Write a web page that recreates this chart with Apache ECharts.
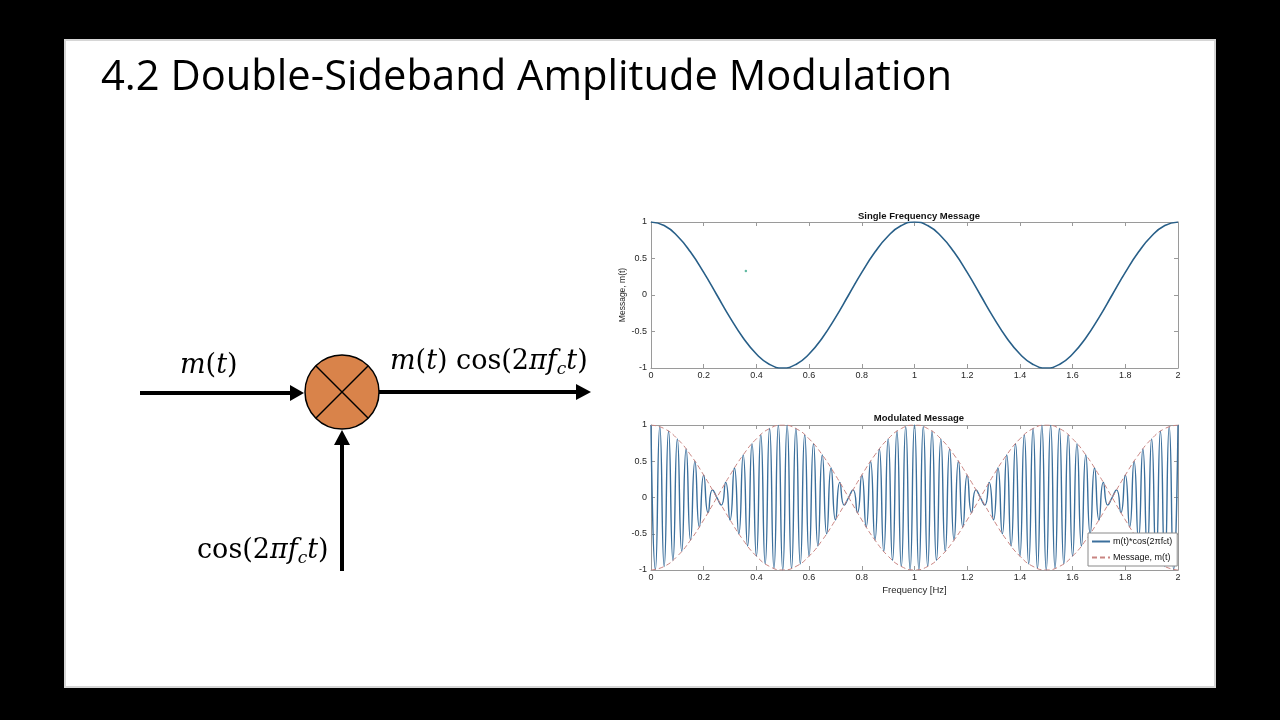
<!DOCTYPE html>
<html>
<head>
<meta charset="utf-8">
<script src="https://cdn.jsdelivr.net/npm/echarts@6/dist/echarts.min.js"></script>
<style>
html,body{margin:0;padding:0;background:#000;}
#chart{width:1280px;height:720px;}
</style>
</head>
<body>
<div id="chart"></div>
<script>
// ---- data ----
const slideTitle = '4.2 Double-Sideband Amplitude Modulation';
const topTitle = 'Single Frequency Message';
const bottomTitle = 'Modulated Message';
const yAxisName = 'Message, m(t)';
const xAxisName = 'Frequency [Hz]';
const xTicks = ['0','0.2','0.4','0.6','0.8','1','1.2','1.4','1.6','1.8','2'];
const yTicks = ['-1','-0.5','0','0.5','1'];

// message m(t), sampled every 0.05 from t = 0 to 2
const messageStep = 0.05;
const message = [1,0.951,0.809,0.588,0.309,0,-0.309,-0.588,-0.809,-0.951,-1,-0.951,-0.809,-0.588,-0.309,0,0.309,0.588,0.809,0.951,
  1,0.951,0.809,0.588,0.309,0,-0.309,-0.588,-0.809,-0.951,-1,-0.951,-0.809,-0.588,-0.309,0,0.309,0.588,0.809,0.951,1];
// lower envelope (-m(t)), same sampling
const messageNeg = [-1,-0.951,-0.809,-0.588,-0.309,0,0.309,0.588,0.809,0.951,1,0.951,0.809,0.588,0.309,0,-0.309,-0.588,-0.809,-0.951,
  -1,-0.951,-0.809,-0.588,-0.309,0,0.309,0.588,0.809,0.951,1,0.951,0.809,0.588,0.309,0,-0.309,-0.588,-0.809,-0.951,-1];

// modulated signal m(t)*cos(2*pi*fc*t): carrier peaks, sampled every 1/60 s
const modStep = 1/60;
const modulated = [
  1,-0.995,0.978,-0.951,0.914,-0.866,0.809,-0.743,0.669,-0.588,0.5,-0.407,0.309,-0.208,0.105,0,
  -0.105,0.208,-0.309,0.407,-0.5,0.588,-0.669,0.743,-0.809,0.866,-0.914,0.951,-0.978,0.995,-1,
  0.995,-0.978,0.951,-0.914,0.866,-0.809,0.743,-0.669,0.588,-0.5,0.407,-0.309,0.208,-0.105,0,
  0.105,-0.208,0.309,-0.407,0.5,-0.588,0.669,-0.743,0.809,-0.866,0.914,-0.951,0.978,-0.995,1,
  -0.995,0.978,-0.951,0.914,-0.866,0.809,-0.743,0.669,-0.588,0.5,-0.407,0.309,-0.208,0.105,0,
  -0.105,0.208,-0.309,0.407,-0.5,0.588,-0.669,0.743,-0.809,0.866,-0.914,0.951,-0.978,0.995,-1,
  0.995,-0.978,0.951,-0.914,0.866,-0.809,0.743,-0.669,0.588,-0.5,0.407,-0.309,0.208,-0.105,0,
  0.105,-0.208,0.309,-0.407,0.5,-0.588,0.669,-0.743,0.809,-0.866,0.914,-0.951,0.978,-0.995,1
];
// stray dot in the top plot
const strayDot = [[0.36, 0.33]];

// ---- build pairs ----
const pairs = (arr, step) => arr.map((v, i) => [i * step, v]);

const chart = echarts.init(document.getElementById('chart'));

const FONT = 'Liberation Sans';
const axisColor = '#9a9a9a';
const labelColor = '#262626';

function xAxisFor(grid, showLabels, name) {
  return [{
    type: 'value', gridIndex: grid, min: 0, max: 2, interval: 0.2, position: 'bottom',
    axisLine: {show: true, onZero: false, lineStyle: {color: axisColor, width: 1}},
    axisTick: {show: true, inside: true, length: 4, lineStyle: {color: axisColor}},
    splitLine: {show: false},
    axisLabel: {show: showLabels, fontFamily: FONT, fontSize: 9, color: labelColor, margin: 3,
      formatter: (v) => xTicks[Math.round(v / 0.2)]},
    name: name || '', nameLocation: 'middle', nameGap: 15,
    nameTextStyle: {fontFamily: FONT, fontSize: 9.5, color: labelColor}
  }, {
    type: 'value', gridIndex: grid, min: 0, max: 2, interval: 0.2, position: 'top',
    axisLine: {show: true, onZero: false, lineStyle: {color: axisColor, width: 1}},
    axisTick: {show: true, inside: true, length: 4, lineStyle: {color: axisColor}},
    splitLine: {show: false}, axisLabel: {show: false}
  }];
}
function yAxisFor(grid, name) {
  return [{
    type: 'value', gridIndex: grid, min: -1, max: 1, interval: 0.5, position: 'left',
    axisLine: {show: true, onZero: false, lineStyle: {color: axisColor, width: 1}},
    axisTick: {show: true, inside: true, length: 4, lineStyle: {color: axisColor}},
    splitLine: {show: false},
    axisLabel: {fontFamily: FONT, fontSize: 9, color: labelColor, margin: 4,
      formatter: (v) => yTicks[Math.round((v + 1) / 0.5)]},
    name: name || '', nameLocation: 'middle', nameGap: 12, nameRotate: 90,
    nameTextStyle: {fontFamily: FONT, fontSize: 8.5, color: labelColor}
  }, {
    type: 'value', gridIndex: grid, min: -1, max: 1, interval: 0.5, position: 'right',
    axisLine: {show: true, onZero: false, lineStyle: {color: axisColor, width: 1}},
    axisTick: {show: true, inside: true, length: 4, lineStyle: {color: axisColor}},
    splitLine: {show: false}, axisLabel: {show: false}
  }];
}

const mathFont = 'DejaVu Serif';
const MF = 27;
const mathRich = {
  i: {fontFamily: mathFont, fontStyle: 'italic', fontSize: MF, lineHeight: 34, color: '#000'},
  r: {fontFamily: mathFont, fontSize: MF, lineHeight: 34, color: '#000'},
  s: {fontFamily: mathFont, fontStyle: 'italic', fontSize: 17, lineHeight: 12, verticalAlign: 'bottom', color: '#000'}
};

const arrowW = 4;
const graphics = [
  {type: 'rect', z: -10, shape: {x: 65, y: 40, width: 1150, height: 647}, style: {fill: '#fff', stroke: '#d6d6d6', lineWidth: 2}},
  {type: 'text', z: 5, left: 101, top: 57, style: {text: slideTitle, font: '41.7px "Open Sans"', fill: '#000'}},
  // input line m(t)
  {type: 'line', shape: {x1: 140, y1: 393, x2: 292, y2: 393}, style: {stroke: '#000', lineWidth: arrowW}},
  {type: 'polygon', shape: {points: [[290, 385], [304, 393], [290, 401]]}, style: {fill: '#000'}},
  // output line
  {type: 'line', shape: {x1: 379, y1: 392, x2: 578, y2: 392}, style: {stroke: '#000', lineWidth: arrowW}},
  {type: 'polygon', shape: {points: [[576, 384], [591, 392], [576, 400]]}, style: {fill: '#000'}},
  // carrier line
  {type: 'line', shape: {x1: 342, y1: 571, x2: 342, y2: 443}, style: {stroke: '#000', lineWidth: arrowW}},
  {type: 'polygon', shape: {points: [[334, 445], [342, 430], [350, 445]]}, style: {fill: '#000'}},
  // mixer
  {type: 'circle', shape: {cx: 342, cy: 392, r: 37}, style: {fill: '#D9834A', stroke: '#000', lineWidth: 1.5}},
  {type: 'line', shape: {x1: 316, y1: 366, x2: 368, y2: 418}, style: {stroke: '#000', lineWidth: 1.5}},
  {type: 'line', shape: {x1: 368, y1: 366, x2: 316, y2: 418}, style: {stroke: '#000', lineWidth: 1.5}},
  // labels
  {type: 'text', left: 180, top: 352, style: {text: '{i|m}{r|(}{i|t}{r|)}', rich: mathRich}},
  {type: 'text', left: 390, top: 348, style: {text: '{i|m}{r|(}{i|t}{r|) cos(2}{i|πf}{s|c}{i|t}{r|)}', rich: mathRich}},
  {type: 'text', left: 197, top: 537, style: {text: '{r|cos(2}{i|πf}{s|c}{i|t}{r|)}', rich: mathRich}}
];

const option = {
  backgroundColor: '#000',
  animation: false,
  title: [
    {text: topTitle, left: 914, top: 206, textAlign: 'center',
      textStyle: {fontFamily: FONT, fontWeight: 'bold', fontSize: 9.5, color: '#111'}},
    {text: bottomTitle, left: 914, top: 408, textAlign: 'center',
      textStyle: {fontFamily: FONT, fontWeight: 'bold', fontSize: 9.5, color: '#111'}}
  ],
  grid: [
    {left: 651, top: 222, width: 527, height: 146, show: true, backgroundColor: '#fff', borderWidth: 0},
    {left: 651, top: 425, width: 527, height: 145, show: true, backgroundColor: '#fff', borderWidth: 0}
  ],
  xAxis: [...xAxisFor(0, true), ...xAxisFor(1, true, xAxisName)],
  yAxis: [...yAxisFor(0, yAxisName), ...yAxisFor(1)],
  legend: {
    data: ['m(t)*cos(2πf_ct)', 'Message, m(t)'],
    orient: 'vertical', left: 1088, top: 533,
    backgroundColor: '#fff', borderColor: '#8a8a8a', borderWidth: 1, borderRadius: 0,
    padding: [4, 5, 4, 3], itemGap: 7, itemWidth: 18, itemHeight: 8,
    itemStyle: {color: 'transparent', borderWidth: 0, opacity: 0},
    textStyle: {fontFamily: FONT, fontSize: 9, color: '#111', padding: [0, 0, 0, -2],
      rich: {a: {fontFamily: FONT, fontSize: 9, color: '#111'},
             s: {fontFamily: FONT, fontSize: 7, color: '#111', verticalAlign: 'bottom', lineHeight: 4}}},
    formatter: (n) => n === 'm(t)*cos(2πf_ct)' ? '{a|m(t)*cos(2πf}{s|c}{a|t)}' : '{a|' + n + '}'
  },
  graphic: graphics,
  series: [
    {type: 'line', xAxisIndex: 0, yAxisIndex: 0, data: pairs(message, messageStep), smooth: 0.5,
      symbol: 'none', lineStyle: {color: '#285f88', width: 1.6}, itemStyle: {color: '#285f88'}},
    {type: 'scatter', xAxisIndex: 0, yAxisIndex: 0, data: strayDot, symbolSize: 2.5,
      itemStyle: {color: '#3aa88a'}},
    {name: 'm(t)*cos(2πf_ct)', type: 'line', xAxisIndex: 2, yAxisIndex: 2, data: pairs(modulated, modStep), smooth: 0.6,
      symbol: 'none', lineStyle: {color: '#3b6f9c', width: 1.4}, itemStyle: {color: '#3b6f9c'}},
    {name: 'Message, m(t)', type: 'line', xAxisIndex: 2, yAxisIndex: 2, data: pairs(message, messageStep), smooth: 0.5,
      symbol: 'none', lineStyle: {color: '#c98582', width: 1, type: [5, 3]}, itemStyle: {color: '#c98582'}},
    {type: 'line', xAxisIndex: 2, yAxisIndex: 2, data: pairs(messageNeg, messageStep), smooth: 0.5,
      symbol: 'none', lineStyle: {color: '#c98582', width: 1, type: [5, 3]}, itemStyle: {color: '#c98582'}}
  ]
};
chart.setOption(option);
</script>
</body>
</html>
